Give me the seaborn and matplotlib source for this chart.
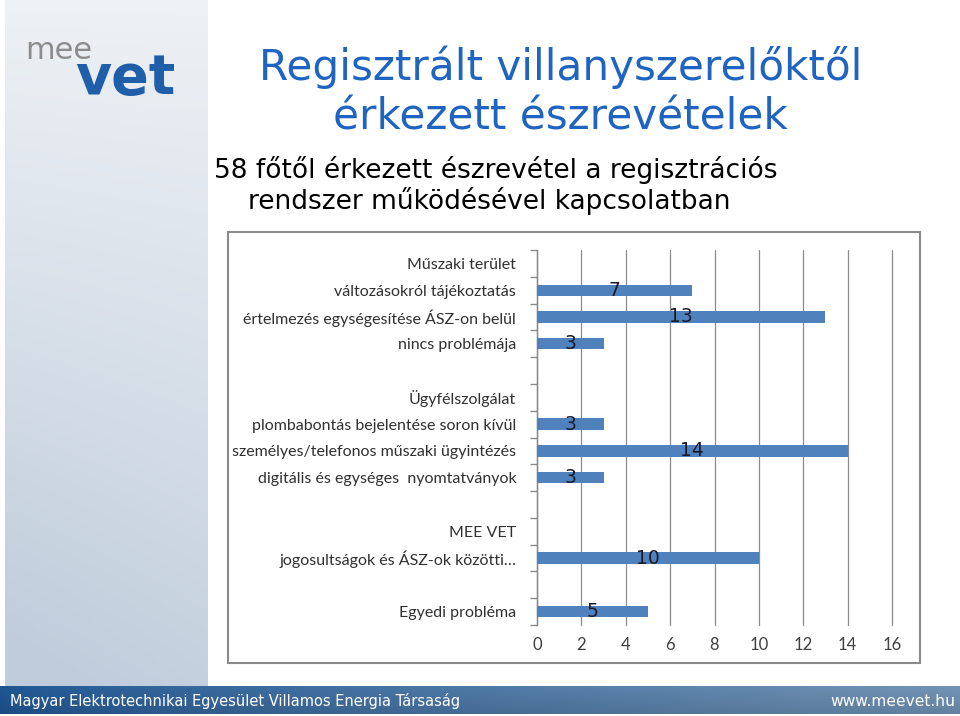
import numpy as np
import matplotlib
matplotlib.use("Agg")
import matplotlib.pyplot as plt
import seaborn as sns
from matplotlib.patches import Rectangle

# ---------------- data ----------------
categories = [
    "Műszaki terület",
    "változásokról tájékoztatás",
    "értelmezés egységesítése ÁSZ-on belül",
    "nincs problémája",
    " ",
    "Ügyfélszolgálat",
    "plombabontás bejelentése soron kívül",
    "személyes/telefonos műszaki ügyintézés",
    "digitális és egységes  nyomtatványok",
    "  ",
    "MEE VET",
    "jogosultságok és ÁSZ-ok közötti…",
    "   ",
    "Egyedi probléma",
]
values = [0, 7, 13, 3, 0, 0, 3, 14, 3, 0, 0, 10, 0, 5]
x_ticks = [0, 2, 4, 6, 8, 10, 12, 14, 16]

title_lines = ["Regisztrált villanyszerelőktől", "érkezett észrevételek"]
subtitle_lines = ["58 főtől érkezett észrevétel a regisztrációs",
                  "rendszer működésével kapcsolatban"]
footer_left = "Magyar Elektrotechnikai Egyesület Villamos Energia Társaság"
footer_right = "www.meevet.hu"

# ---------------- figure ----------------
sns.set_theme(style="white")
W, H = 960, 716
fig = plt.figure(figsize=(W / 100, H / 100), dpi=100)
fig.patch.set_facecolor("white")

def fx(px):
    return px / W

def fy(py):
    return 1 - py / H

# left gradient band
bg = fig.add_axes([fx(5), fy(686), fx(208 - 5), (686) / H], zorder=0)
ny, nx = 200, 60
yy, xx = np.mgrid[0:1:ny * 1j, 0:1:nx * 1j]
t = np.clip(0.15 + 0.75 * yy + 0.15 * (1 - xx) * yy, 0, 1)
c0 = np.array([0.965, 0.972, 0.98])
c1 = np.array([0.75, 0.80, 0.86])
img = c0[None, None, :] * (1 - t[..., None]) + c1[None, None, :] * t[..., None]
bg.imshow(img, aspect="auto", extent=[0, 1, 1, 0])
bg.set_axis_off()

# footer band
ft = fig.add_axes([fx(0), fy(714), 1, 28 / H], zorder=0)
fxg = np.linspace(0, 1, 300)
fyg = np.linspace(0, 1, 30)
FX, FY = np.meshgrid(fxg, fyg)
cl = np.array([0.12, 0.34, 0.58])
cr = np.array([0.45, 0.58, 0.71])
tt = FX ** 0.8
fimg = cl[None, None, :] * (1 - tt[..., None]) + cr[None, None, :] * tt[..., None]
fimg = fimg * (1 - 0.12 * FY[..., None])
ft.imshow(np.clip(fimg, 0, 1), aspect="auto", extent=[0, 1, 0, 1])
ft.set_axis_off()
fig.text(fx(10), fy(706), footer_left, color="white", fontsize=10.5,
         family="DejaVu Sans", va="baseline", ha="left", zorder=5)
fig.text(fx(955), fy(706), footer_right, color="white", fontsize=11.2,
         family="DejaVu Sans", va="baseline", ha="right", zorder=5)

# logo
fig.text(fx(25), fy(59), "mee", color="#8c8c8c", fontsize=22,
         family="DejaVu Sans", va="baseline", ha="left", zorder=5)
fig.text(fx(75), fy(94), "vet", color="#1f5ea8", fontsize=40,
         family="DejaVu Sans", fontweight="bold", va="baseline", ha="left", zorder=5)

# title and subtitle
title_color = "#1f64c0"
fig.text(fx(561), fy(80), title_lines[0], color=title_color, fontsize=30.3,
         family="DejaVu Sans", ha="center", va="baseline")
fig.text(fx(560), fy(130), title_lines[1], color=title_color, fontsize=30.3,
         family="DejaVu Sans", ha="center", va="baseline")
fig.text(fx(496), fy(178), subtitle_lines[0], color="black", fontsize=19,
         family="DejaVu Sans", ha="center", va="baseline")
fig.text(fx(489), fy(209), subtitle_lines[1], color="black", fontsize=19,
         family="DejaVu Sans", ha="center", va="baseline")

# chart box
box = Rectangle((fx(228), fy(663)), fx(920 - 228), (663 - 232) / H,
                transform=fig.transFigure, facecolor="white",
                edgecolor="#8a8a8a", linewidth=1.5, zorder=1)
fig.patches.append(box)

# chart axes
ax = fig.add_axes([fx(537), fy(625), fx(892 - 537), (625 - 250) / H], zorder=3)
ax.set_facecolor("none")
sns.barplot(x=values, y=categories, order=categories, orient="h",
            color="#4f81bd", width=0.42, saturation=1, linewidth=0,
            ax=ax, zorder=3)

ax.set_xlim(0, 16)
ax.set_xticks(x_ticks)
ax.set_ylim(len(categories) - 0.5, -0.5)
label_font = ["Lato", "DejaVu Sans"]
ax.set_xticklabels([str(v) for v in x_ticks], fontsize=12, color="#404040",
                   family=label_font)
ax.set_yticks(range(len(categories)))
ax.set_yticklabels(categories, fontsize=11.5, color="#303030", family=label_font)
ax.tick_params(axis="y", which="major", length=0, pad=15)
ax.tick_params(axis="x", which="major", length=0, pad=9)
ax.set_yticks(np.arange(-0.5, len(categories), 1), minor=True)
ax.tick_params(axis="y", which="minor", length=5, color="#8a8a8a", width=1,
               direction="out", left=True)
ax.xaxis.grid(True, color="#8c8c8c", linewidth=0.9)
for gl in ax.get_xgridlines():
    gl.set_clip_on(False)
ax.yaxis.grid(False)
ax.set_axisbelow(True)
for s in ["top", "right", "bottom"]:
    ax.spines[s].set_visible(False)
ax.spines["left"].set_color("#8a8a8a")
ax.spines["left"].set_linewidth(1)
ax.set_xlabel("")
ax.set_ylabel("")

labels = [str(v) if v else "" for v in values]
ax.bar_label(ax.containers[0], labels=labels, label_type="center",
             fontsize=13.5, color="#1a1a28", family="DejaVu Sans")

fig.savefig("out.png", dpi=100, facecolor="white")
